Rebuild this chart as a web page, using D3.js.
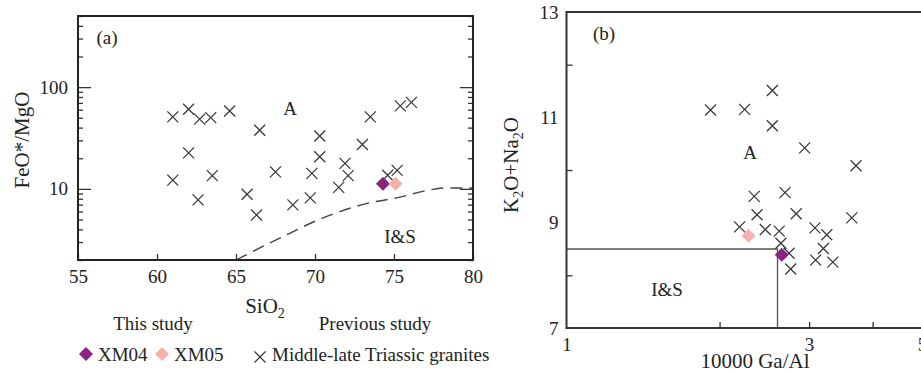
<!DOCTYPE html>
<html>
<head>
<meta charset="utf-8">
<script src="https://cdn.jsdelivr.net/npm/d3@7"></script>
<style>
  body { margin: 0; background: white; }
  text { font-family: "Liberation Serif", "Times New Roman", serif; fill: #222; }
</style>
</head>
<body>
<div id="container"></div>
<script>
// panel (a): SiO2 vs FeO*/MgO
let aSiO2 = [61.0, 62.0, 62.7, 63.4, 64.6, 66.5, 70.3, 70.3, 73.5, 73.0, 75.4, 76.1, 62.0, 61.0,
             63.5, 62.6, 65.7, 66.3, 67.5, 69.8, 68.6, 69.7, 71.9, 72.1, 71.5, 74.6, 75.2];
let aFeMg = [51.0, 60.6, 48.4, 50.1, 58.2, 37.7, 33.1, 20.7, 51.0, 27.3, 65.4, 70.7, 22.6, 12.2,
             13.5, 7.8, 8.85, 5.54, 14.7, 14.2, 6.96, 8.17, 17.8, 13.5, 10.35, 13.6, 15.2];
let aStudy = [
  {name: "XM04", si: 74.3, fm: 11.2},
  {name: "XM05", si: 75.1, fm: 11.2}
];
// A / I&S boundary
let aLineSi = [65.0, 67.8, 70.4, 73.3, 75.4, 77.0, 78.3, 80.0];
let aLineFm = [2.0, 3.3, 5.1, 7.2, 8.3, 9.6, 10.2, 10.2];

// panel (b): 10000 Ga/Al vs K2O+Na2O
let bGaAl = [1.92, 2.24, 2.54, 2.54, 2.94, 3.71, 2.34, 2.69, 2.37, 2.83, 3.64,
             2.19, 2.46, 2.62, 3.08, 3.25, 2.64, 3.20, 2.74, 3.09, 3.34, 2.76];
let bAlk = [11.14, 11.15, 11.51, 10.84, 10.42, 10.08, 9.50, 9.57, 9.15, 9.17, 9.09,
            8.92, 8.87, 8.84, 8.90, 8.77, 8.61, 8.51, 8.42, 8.29, 8.25, 8.12];
let bStudy = [
  {name: "XM04", ga: 2.65, alk: 8.39},
  {name: "XM05", ga: 2.28, alk: 8.75}
];
let bLineGa = [1, 2.6, 2.6];
let bLineAlk = [8.5, 8.5, 7];

let aTicksX = [55, 60, 65, 70, 75, 80];
let aTicksYMajor = [10, 100];
let aTicksYMinor = [2, 3, 4, 5, 6, 7, 8, 9, 20, 30, 40, 50, 60, 70, 80, 90, 200, 300, 400, 500];
let bTicksXLabel = [1, 3, 5];
let bTicksXMinor = [2, 3, 4];
let bTicksYLabel = [7, 9, 11, 13];
let bTicksYMinor = [8, 10, 12];

let studyColor = {XM04: "#8c2383", XM05: "#f5b1ab"};

let w = 921;
let h = 374;

let viz = d3.select("#container")
  .append("svg")
    .attr("width", w)
    .attr("height", h)
    .style("display", "block")
;

let xA = d3.scaleLinear().domain([55, 80]).range([78, 473]);
let yA = d3.scaleLog().domain([2, 500]).range([260, 16]);
let xB = d3.scaleLog().domain([1, 10]).range([566.5, 1075]);
let yB = d3.scaleLinear().domain([7, 13]).range([328, 12]);

let crossPath = "M-5.5,-5.5L5.5,5.5M-5.5,5.5L5.5,-5.5";
let diamondPath = "M0,-7L7,0L0,7L-7,0Z";

function cleanAxis(g){
  g.select(".domain").remove();
  g.selectAll("line").attr("stroke", "#333").attr("stroke-width", 1.3);
  g.selectAll("text")
    .style("font-family", "'Liberation Serif', 'Times New Roman', serif")
    .style("font-size", "19px")
    .attr("fill", "#222");
}

// ---------- panel a ----------
let pa = viz.append("g");

pa.append("g")
    .attr("transform", "translate(0,260)")
    .call(d3.axisBottom(xA).tickValues(aTicksX).tickSize(-6).tickPadding(10).tickFormat(d3.format("d")))
    .call(cleanAxis)
;
pa.append("g")
    .attr("transform", "translate(78,0)")
    .call(d3.axisLeft(yA).tickValues(aTicksYMajor).tickSize(-13).tickPadding(10).tickFormat(d3.format("d")))
    .call(cleanAxis)
;
pa.append("g")
    .attr("transform", "translate(78,0)")
    .call(d3.axisLeft(yA).tickValues(aTicksYMinor).tickSize(-5).tickFormat(""))
    .call(cleanAxis)
;
pa.append("g")
    .attr("transform", "translate(473,0)")
    .call(d3.axisRight(yA).tickValues(aTicksYMajor).tickSize(-13).tickFormat(""))
    .call(cleanAxis)
;
pa.append("g")
    .attr("transform", "translate(473,0)")
    .call(d3.axisRight(yA).tickValues(aTicksYMinor).tickSize(-5).tickFormat(""))
    .call(cleanAxis)
;

let aLine = d3.line()
    .x(function(d){ return xA(d[0]); })
    .y(function(d){ return yA(d[1]); })
    .curve(d3.curveMonotoneX)
;
pa.append("path")
    .datum(d3.zip(aLineSi, aLineFm))
    .attr("d", aLine)
    .attr("fill", "none")
    .attr("stroke", "#444")
    .attr("stroke-width", 1.4)
    .attr("stroke-dasharray", "12,7")
;

pa.selectAll(".crossa").data(d3.zip(aSiO2, aFeMg)).enter()
  .append("path")
    .classed("crossa", true)
    .attr("d", crossPath)
    .attr("transform", function(d){ return "translate(" + xA(d[0]) + "," + yA(d[1]) + ")"; })
    .attr("stroke", "#333")
    .attr("stroke-width", 1.2)
    .attr("fill", "none")
;

pa.selectAll(".studya").data(aStudy).enter()
  .append("path")
    .classed("studya", true)
    .attr("d", diamondPath)
    .attr("transform", function(d){ return "translate(" + xA(d.si) + "," + yA(d.fm) + ")"; })
    .attr("fill", function(d){ return studyColor[d.name]; })
;

pa.append("rect")
    .attr("x", 78).attr("y", 16)
    .attr("width", 395).attr("height", 244)
    .attr("fill", "none")
    .attr("stroke", "#222")
    .attr("stroke-width", 2)
;

pa.append("text").text("(a)").attr("x", 107).attr("y", 44).attr("text-anchor", "middle").style("font-size", "19px");
pa.append("text").text("A").attr("x", 290).attr("y", 115).attr("text-anchor", "middle").style("font-size", "19px");
pa.append("text").text("I&S").attr("x", 400).attr("y", 243).attr("text-anchor", "middle").style("font-size", "19px");

pa.append("text")
    .text("FeO*/MgO")
    .attr("text-anchor", "middle")
    .attr("transform", "translate(29,140) rotate(-90)")
    .style("font-size", "21px")
;

let siLabel = pa.append("text")
    .attr("x", 265).attr("y", 313)
    .attr("text-anchor", "middle")
    .style("font-size", "21px")
;
siLabel.append("tspan").text("SiO");
siLabel.append("tspan").text("2").attr("dy", 5).style("font-size", "14px");

// legend
viz.append("text").text("This study").attr("x", 153).attr("y", 330).attr("text-anchor", "middle").style("font-size", "19px");
viz.append("text").text("Previous study").attr("x", 375).attr("y", 330).attr("text-anchor", "middle").style("font-size", "19px");

let legendItems = [
  {name: "XM04", x: 86},
  {name: "XM05", x: 162}
];
let lg = viz.selectAll(".legenditem").data(legendItems).enter()
  .append("g")
    .classed("legenditem", true)
    .attr("transform", function(d){ return "translate(" + d.x + ",354)"; })
;
lg.append("path")
    .attr("d", diamondPath)
    .attr("fill", function(d){ return studyColor[d.name]; })
;
lg.append("text")
    .text(function(d){ return d.name; })
    .attr("x", 12).attr("y", 7)
    .style("font-size", "19px")
;
viz.append("path")
    .attr("d", crossPath)
    .attr("transform", "translate(260,357)")
    .attr("stroke", "#333").attr("stroke-width", 1.2).attr("fill", "none")
;
viz.append("text").text("Middle-late Triassic granites").attr("x", 272).attr("y", 361).style("font-size", "19px");

// ---------- panel b ----------
let pb = viz.append("g");

pb.append("g")
    .attr("transform", "translate(0,328)")
    .call(d3.axisBottom(xB).tickValues(bTicksXLabel).tickSize(0).tickPadding(10).tickFormat(d3.format("d")))
    .call(cleanAxis)
;
pb.append("g")
    .attr("transform", "translate(0,328)")
    .call(d3.axisBottom(xB).tickValues(bTicksXMinor).tickSize(-6).tickFormat(""))
    .call(cleanAxis)
;
pb.append("g")
    .attr("transform", "translate(566.5,0)")
    .call(d3.axisLeft(yB).tickValues(bTicksYLabel).tickSize(0).tickPadding(8).tickFormat(d3.format("d")))
    .call(cleanAxis)
;
pb.append("g")
    .attr("transform", "translate(566.5,0)")
    .call(d3.axisLeft(yB).tickValues(bTicksYMinor).tickSize(-6).tickFormat(""))
    .call(cleanAxis)
;

let bLine = d3.line()
    .x(function(d){ return xB(d[0]); })
    .y(function(d){ return yB(d[1]); })
;
pb.append("path")
    .datum(d3.zip(bLineGa, bLineAlk))
    .attr("d", bLine)
    .attr("fill", "none")
    .attr("stroke", "#555")
    .attr("stroke-width", 1.3)
;

pb.selectAll(".crossb").data(d3.zip(bGaAl, bAlk)).enter()
  .append("path")
    .classed("crossb", true)
    .attr("d", crossPath)
    .attr("transform", function(d){ return "translate(" + xB(d[0]) + "," + yB(d[1]) + ")"; })
    .attr("stroke", "#333")
    .attr("stroke-width", 1.2)
    .attr("fill", "none")
;

pb.selectAll(".studyb").data(bStudy).enter()
  .append("path")
    .classed("studyb", true)
    .attr("d", diamondPath)
    .attr("transform", function(d){ return "translate(" + xB(d.ga) + "," + yB(d.alk) + ")"; })
    .attr("fill", function(d){ return studyColor[d.name]; })
;

pb.append("rect")
    .attr("x", 566.5).attr("y", 12)
    .attr("width", 508.5).attr("height", 316)
    .attr("fill", "none")
    .attr("stroke", "#333")
    .attr("stroke-width", 2)
;

pb.append("text").text("(b)").attr("x", 604).attr("y", 40).attr("text-anchor", "middle").style("font-size", "19px");
pb.append("text").text("A").attr("x", 750).attr("y", 159).attr("text-anchor", "middle").style("font-size", "19px");
pb.append("text").text("I&S").attr("x", 667).attr("y", 296).attr("text-anchor", "middle").style("font-size", "19px");

let alkLabel = pb.append("text")
    .attr("text-anchor", "middle")
    .attr("transform", "translate(518,165) rotate(-90)")
    .style("font-size", "21px")
;
alkLabel.append("tspan").text("K");
alkLabel.append("tspan").text("2").attr("dy", 5).style("font-size", "14px");
alkLabel.append("tspan").text("O+Na").attr("dy", -5);
alkLabel.append("tspan").text("2").attr("dy", 5).style("font-size", "14px");
alkLabel.append("tspan").text("O").attr("dy", -5);

pb.append("text")
    .text("10000 Ga/Al")
    .attr("x", 755).attr("y", 368)
    .attr("text-anchor", "middle")
    .style("font-size", "21px")
;
</script>
</body>
</html>
